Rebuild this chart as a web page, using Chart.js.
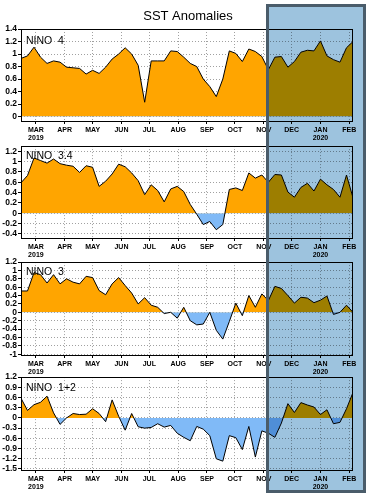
<!DOCTYPE html>
<html><head><meta charset="utf-8">
<script src="https://cdn.jsdelivr.net/npm/chart.js@4"></script>
<style>
html,body{margin:0;padding:0;background:#fff;}
#wrap{position:relative;width:379px;height:502px;background:#fff;overflow:hidden;isolation:isolate;}
canvas{position:absolute;left:0;}
#shade{position:absolute;left:266px;top:4px;width:100px;height:489px;background:rgb(157,195,222);mix-blend-mode:multiply;pointer-events:none;}
#shadeBorder{position:absolute;left:266px;top:4px;width:100px;height:489px;border:3px solid #4a5c6a;box-sizing:border-box;pointer-events:none;}
</style></head><body>
<div id="wrap">
<canvas id="c1" width="379" height="143" style="top:0px"></canvas>
<canvas id="c2" width="379" height="120" style="top:140px"></canvas>
<canvas id="c3" width="379" height="119" style="top:256px"></canvas>
<canvas id="c4" width="379" height="131" style="top:371px"></canvas>
<div id="shade"></div><div id="shadeBorder"></div>
</div>
<script>
// weekly (Wednesday-centred) dates
const weeks = ['2019-02-13','2019-02-20','2019-02-27','2019-03-06','2019-03-13','2019-03-20','2019-03-27',
'2019-04-03','2019-04-10','2019-04-17','2019-04-24','2019-05-01','2019-05-08','2019-05-15','2019-05-22','2019-05-29',
'2019-06-05','2019-06-12','2019-06-19','2019-06-26','2019-07-03','2019-07-10','2019-07-17','2019-07-24','2019-07-31',
'2019-08-07','2019-08-14','2019-08-21','2019-08-28','2019-09-04','2019-09-11','2019-09-18','2019-09-25',
'2019-10-02','2019-10-09','2019-10-16','2019-10-23','2019-10-30','2019-11-06','2019-11-13','2019-11-20','2019-11-27',
'2019-12-04','2019-12-11','2019-12-18','2019-12-25','2020-01-01','2020-01-08','2020-01-15','2020-01-22','2020-01-29','2020-02-05'];
const monthStarts = ['2019-03-01','2019-04-01','2019-05-01','2019-06-01','2019-07-01','2019-08-01','2019-09-01','2019-10-01','2019-11-01','2019-12-01','2020-01-01','2020-02-01'];
const monthNames = ['MAR','APR','MAY','JUN','JUL','AUG','SEP','OCT','NOV','DEC','JAN','FEB'];
const yearNames = {MAR:'2019', JAN:'2020'};

const nino4 = [0.93,0.97,1.11,0.95,0.85,0.89,0.87,0.79,0.78,0.77,0.68,0.74,0.69,0.79,0.92,1.0,1.1,1.0,0.82,0.23,0.89,0.89,0.89,1.05,1.04,0.95,0.85,0.8,0.6,0.48,0.32,0.6,1.05,1.01,0.88,1.08,1.04,0.96,0.75,0.95,0.96,0.79,0.88,1.03,1.06,1.05,1.21,0.97,0.91,0.87,1.1,1.2];
const nino34 = [0.59,0.73,1.07,1.02,0.97,1.05,0.96,0.93,0.91,0.79,0.92,0.89,0.52,0.62,0.76,0.95,0.9,0.78,0.63,0.36,0.55,0.44,0.22,0.47,0.52,0.42,0.17,-0.02,-0.22,-0.16,-0.32,-0.22,0.46,0.49,0.44,0.78,0.68,0.74,0.6,0.75,0.74,0.41,0.31,0.5,0.58,0.43,0.66,0.55,0.46,0.31,0.74,0.3];
const nino3 = [0.51,0.51,0.95,0.9,0.7,0.9,0.68,0.8,0.72,0.68,0.86,0.83,0.52,0.42,0.68,0.83,0.64,0.46,0.2,0.35,0.17,0.12,-0.03,0.0,-0.14,0.12,-0.2,-0.3,-0.28,0.0,-0.43,-0.64,-0.22,0.22,-0.08,0.4,0.12,0.44,0.28,0.62,0.57,0.4,0.22,0.36,0.34,0.23,0.29,0.39,-0.05,0.0,0.17,0.0];
const nino12 = [0.58,0.22,0.39,0.46,0.64,0.15,-0.19,0.0,0.13,0.1,0.11,0.27,0.13,-0.11,0.53,0.05,-0.36,0.13,-0.26,-0.3,-0.28,-0.17,-0.27,-0.22,-0.45,-0.57,-0.67,-0.25,-0.33,-0.52,-1.2,-1.27,-0.52,-0.58,-0.93,-0.25,-1.15,-0.38,-0.45,-0.57,-0.15,0.42,0.16,0.45,0.38,0.32,0.1,0.24,-0.17,-0.13,0.27,0.75];

const ticks4 = [0,0.2,0.4,0.6,0.8,1,1.2,1.4];
const ticks34 = [-0.4,-0.2,0,0.2,0.4,0.6,0.8,1,1.2];
const ticks3 = [-1,-0.8,-0.6,-0.4,-0.2,0,0.2,0.4,0.6,0.8,1,1.2];
const ticks12 = [-1.5,-1.2,-0.9,-0.6,-0.3,0,0.3,0.6,0.9,1.2];

const title = 'SST Anomalies';
const panelNames = ['NINO  4','NINO  3.4','NINO  3','NINO  1+2'];

const origin = Date.parse('2019-03-01T00:00:00Z');
const dayOf = d => Math.round((Date.parse(d + 'T00:00:00Z') - origin) / 864e5);
const xs = weeks.map(dayOf);
const monthX = monthStarts.map(dayOf);
const FONT = 'Liberation Sans';

const framePlugin = {
  id: 'frame',
  afterDraw(chart, args, opts) {
    const {ctx, chartArea: a} = chart;
    ctx.save();
    ctx.strokeStyle = '#000';
    ctx.lineWidth = 1;
    ctx.strokeRect(Math.round(a.left) + 0.5, Math.round(a.top) + 0.5, Math.round(a.right - a.left) - 1, Math.round(a.bottom - a.top));
    ctx.fillStyle = '#000';
    ctx.font = '10.5px ' + FONT;
    ctx.textBaseline = 'alphabetic';
    ctx.textAlign = 'left';
    ctx.fillText(opts.label, a.left + 5, a.top + opts.dy);
    if (opts.title) {
      ctx.font = '13px ' + FONT;
      ctx.textAlign = 'center';
      ctx.textBaseline = 'middle';
      ctx.fillText(opts.title, 188, 16.5);
    }
    ctx.restore();
  }
};

function makeChart(id, vals, yTicks, cfg) {
  return new Chart(document.getElementById(id), {
    type: 'line',
    data: { datasets: [{
      data: xs.map((x, i) => ({x: x, y: vals[i]})),
      borderColor: '#000', borderWidth: 1, pointRadius: 0, tension: 0,
      fill: {target: 'origin', above: '#ffa500', below: '#80baf7'}
    }]},
    options: {
      responsive: false, animation: false, devicePixelRatio: 1,
      layout: {autoPadding: false, padding: {top: cfg.padTop, right: 26, left: 0, bottom: 0}},
      plugins: {
        legend: {display: false}, tooltip: {enabled: false}, title: {display: false},
        frame: {label: cfg.label, dy: cfg.dy, title: cfg.title || ''}
      },
      scales: {
        x: {
          type: 'linear', min: xs[0], max: xs[xs.length - 1], z: 1,
          afterBuildTicks: s => { s.ticks = monthX.map(v => ({value: v})); },
          afterFit: s => { s.height = cfg.xH; },
          ticks: {autoSkip: false, maxRotation: 0, minRotation: 0, padding: 2, color: '#000',
            font: {family: FONT, size: 7, weight: 'bold', lineHeight: 1.15},
            callback: (v, i) => { const m = monthNames[i]; return yearNames[m] ? [m, yearNames[m]] : m; }},
          grid: {color: '#a0a0a0', lineWidth: 1, tickLength: 3, tickColor: '#000', tickBorderDash: []},
          border: {display: false, dash: [1, 2]}
        },
        y: {
          min: cfg.min, max: cfg.max, z: 1,
          afterBuildTicks: s => { s.ticks = yTicks.map(v => ({value: v})); },
          afterFit: s => { s.width = 21; },
          ticks: {autoSkip: false, padding: 1, color: '#000', font: {family: FONT, size: 8.5, weight: 'bold'},
            callback: v => String(v)},
          grid: {color: '#a0a0a0', lineWidth: 1, tickLength: 3, tickColor: '#000', tickBorderDash: []},
          border: {display: false, dash: [1, 2]}
        }
      }
    },
    plugins: [framePlugin]
  });
}

makeChart('c1', nino4, ticks4, {title: title, padTop: 29, xH: 22, min: -0.07, max: 1.4, label: panelNames[0], dy: 15});
makeChart('c2', nino34, ticks34, {padTop: 4, xH: 22, min: -0.48, max: 1.3, label: panelNames[1], dy: 13});
makeChart('c3', nino3, ticks3, {padTop: 4, xH: 20, min: -1.02, max: 1.2, label: panelNames[2], dy: 12.7});
makeChart('c4', nino12, ticks12, {padTop: 4, xH: 32, min: -1.53, max: 1.2, label: panelNames[3], dy: 14});
</script>
</body></html>
